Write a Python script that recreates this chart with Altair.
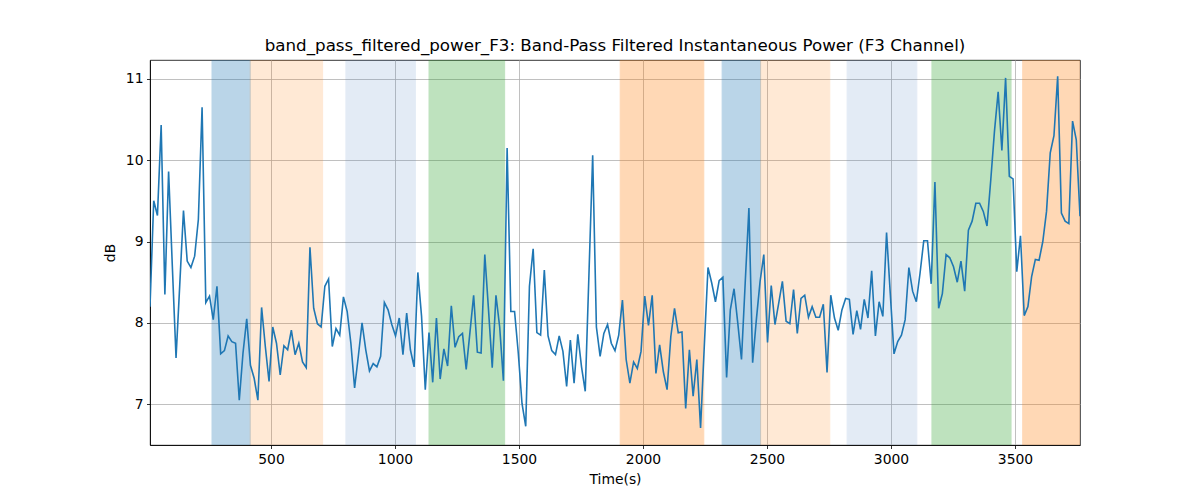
import altair as alt
import pandas as pd

# ---- data ----
t0 = 12      # first sample time (s)
dt = 15      # sampling step (s)

power_db = [
    8.2, 9.50, 9.32, 10.43, 8.35, 9.86, 8.7, 7.57, 8.47, 9.38,
    8.76, 8.68, 8.82, 9.27, 10.65, 8.25, 8.33, 8.04, 8.45, 7.62,
    7.66, 7.84, 7.77, 7.75, 7.05, 7.63, 8.05, 7.48, 7.32, 7.05,
    8.19, 7.71, 7.28, 7.95, 7.75, 7.36, 7.72, 7.67, 7.91, 7.61,
    7.75, 7.52, 7.45, 8.93, 8.18, 7.99, 7.95, 8.45, 8.54, 7.71,
    7.93, 7.85, 8.32, 8.14, 7.75, 7.20, 7.59, 8.00, 7.67, 7.41,
    7.50, 7.46, 7.59, 8.25, 8.16, 7.98, 7.84, 8.06, 7.61, 8.12,
    7.67, 7.46, 8.62, 8.08, 7.18, 7.88, 7.27, 8.06, 7.31, 7.68,
    7.47, 8.21, 7.70, 7.83, 7.87, 7.43, 7.88, 8.34, 7.64, 7.63,
    8.84, 8.16, 7.45, 8.34, 7.95, 7.29, 10.15, 8.14, 8.14, 7.63,
    7.01, 6.73, 8.45, 8.91, 7.88, 7.85, 8.65, 7.84, 7.66, 7.61,
    7.84, 7.65, 7.22, 7.79, 7.26, 7.86, 7.46, 7.16, 8.6, 10.06,
    7.95, 7.59, 7.87, 7.98, 7.75, 7.66, 7.85, 8.28, 7.55, 7.26,
    7.52, 7.44, 7.65, 8.33, 7.97, 8.34, 7.38, 7.73, 7.40, 7.18,
    7.83, 8.18, 7.88, 7.89, 6.95, 7.67, 7.10, 7.55, 6.71, 7.71,
    8.68, 8.49, 8.26, 8.52, 8.56, 7.33, 8.16, 8.42, 8.00, 7.55,
    8.49, 9.41, 7.51, 8.04, 8.51, 8.84, 7.76, 8.46, 7.98, 8.24,
    8.51, 8.02, 7.99, 8.41, 7.87, 8.30, 8.34, 8.07, 8.20, 8.07,
    8.07, 8.23, 7.39, 8.34, 8.06, 7.91, 8.16, 8.30, 8.29, 7.86,
    8.15, 7.92, 8.29, 8.06, 8.64, 7.84, 8.26, 8.08, 9.11, 8.36,
    7.62, 7.77, 7.85, 8.04, 8.68, 8.39, 8.26, 8.61, 9.01, 9.01,
    8.48, 9.73, 8.18, 8.36, 8.84, 8.80, 8.69, 8.50, 8.76, 8.39,
    9.14, 9.25, 9.47, 9.47, 9.37, 9.19, 9.75, 10.35, 10.84, 10.12,
    11.01, 9.80, 9.77, 8.63, 9.07, 8.09, 8.20, 8.57, 8.78, 8.77,
    9.00, 9.37, 10.09, 10.30, 11.03, 9.35, 9.25, 9.22, 10.48, 10.25,
    9.31,
]
times = [t0 + dt * i for i in range(len(power_db))]

band_start = [262, 416, 802, 1137, 1908, 2319, 2474, 2823, 3165, 3531]
band_end = [416, 708, 1082, 1442, 2245, 2474, 2753, 3104, 3484, 3762]
band_color = ["#1f77b4", "#ff7f0e", "#4b80c3", "#2ca02c", "#ff7f0e",
              "#1f77b4", "#ff7f0e", "#4b80c3", "#2ca02c", "#ff7f0e"]
band_alpha = [0.3, 0.17, 0.15, 0.3, 0.3, 0.3, 0.17, 0.15, 0.3, 0.3]

x_ticks = [500, 1000, 1500, 2000, 2500, 3000, 3500]
y_ticks = [7, 8, 9, 10, 11]
x_domain = [12, 3762]
y_domain = [6.5, 11.23]

title_text = "band_pass_filtered_power_F3: Band-Pass Filtered Instantaneous Power (F3 Channel)"

# ---- tables ----
df = pd.DataFrame({"time": times, "db": power_db})
band_df = pd.DataFrame({"start": band_start, "end": band_end,
                        "color": band_color, "alpha": band_alpha})

x_scale = alt.Scale(domain=x_domain, nice=False, zero=False)
y_scale = alt.Scale(domain=y_domain, nice=False, zero=False)

bands = alt.Chart(band_df).mark_rect(strokeWidth=1, clip=True).encode(
    x=alt.X("start:Q", scale=x_scale),
    x2="end:Q",
    color=alt.Color("color:N", scale=None),
    stroke=alt.Stroke("color:N", scale=None),
    opacity=alt.Opacity("alpha:Q", scale=None),
)

line = alt.Chart(df).mark_line(color="#1f77b4", strokeWidth=1.6, clip=True).encode(
    x=alt.X("time:Q", scale=x_scale,
            axis=alt.Axis(title="Time(s)", values=x_ticks, format="d")),
    y=alt.Y("db:Q", scale=y_scale,
            axis=alt.Axis(title="dB", values=y_ticks, format="d")),
)

chart = alt.layer(bands, line).properties(
    width=930,
    height=385,
    title=alt.TitleParams(title_text),
    autosize=alt.AutoSizeParams(type="none"),
    padding={"left": 142, "top": 52, "right": 112, "bottom": 47},
).configure_axis(
    grid=True,
    gridColor="#b0b0b0",
    gridWidth=0.8,
    domainColor="black",
    domainWidth=0.8,
    tickColor="black",
    tickWidth=0.8,
    tickSize=3.5,
    labelPadding=3.5,
    labelFont="DejaVu Sans",
    labelFontSize=13.9,
    labelColor="black",
    titleFont="DejaVu Sans",
    titleFontSize=13.9,
    titleFontWeight="normal",
    titleColor="black",
).configure_axisX(
    titlePadding=7,
).configure_axisY(
    titlePadding=8,
).configure_view(
    stroke="black",
    strokeWidth=0.8,
).configure_title(
    font="DejaVu Sans",
    fontSize=16.7,
    fontWeight="normal",
    color="black",
    anchor="middle",
    offset=5,
)

chart.save("out.html", embed_options={"renderer": "svg", "actions": False})
